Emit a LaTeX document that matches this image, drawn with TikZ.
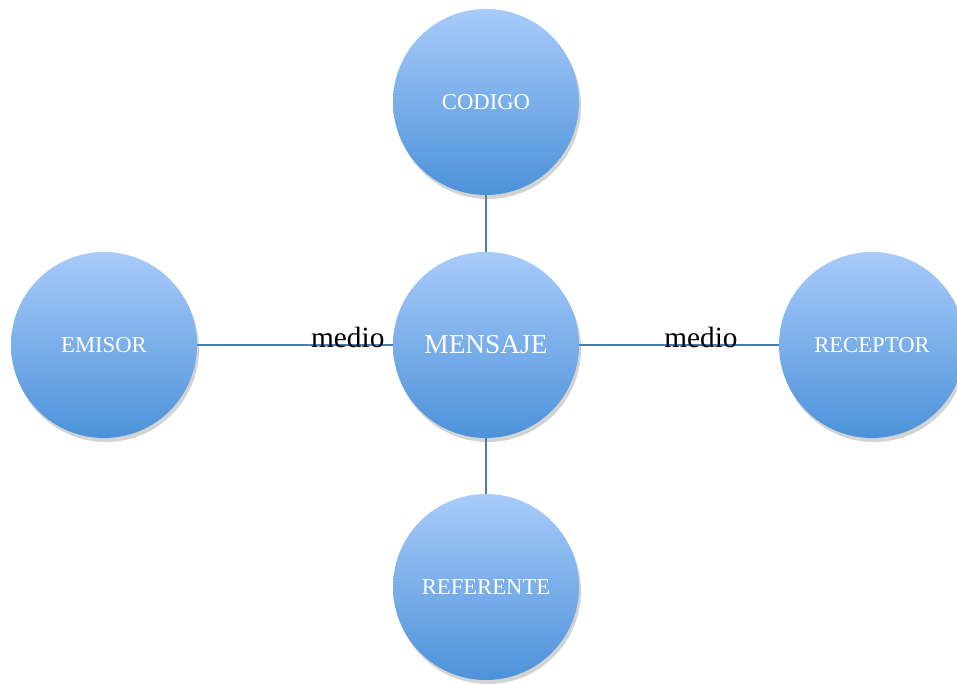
\documentclass[tikz,border=0pt]{standalone}
\usepackage{fontspec}
\setmainfont{Liberation Serif}
\usetikzlibrary{shadows}
\definecolor{bubtop}{HTML}{A8CBFA}
\definecolor{bubbot}{HTML}{4C92DA}
\definecolor{linkblue}{HTML}{4A7EB0}
\tikzset{
  bubble/.style={circle,minimum size=139.5pt,inner sep=0pt,top color=bubtop,bottom color=bubbot,
    text=white,font=\fontsize{17}{19}\selectfont,
    drop shadow={opacity=0.35,shadow xshift=1.5pt,shadow yshift=-3pt}},
  link/.style={draw=linkblue,line width=1.2pt},
  medio/.style={anchor=base,yshift=-2pt,text=black,font=\fontsize{22}{24}\selectfont,inner sep=0pt}
}
\begin{document}
\begin{tikzpicture}[x=0.75pt,y=-0.75pt]
  \useasboundingbox (0,0) rectangle (957,684);
  \node[bubble,font=\fontsize{20.5}{22}\selectfont] (mensaje) at (486,345) {MENSAJE};
  \foreach \n/\x/\y/\t in {codigo/486/102/CODIGO,emisor/104/345/EMISOR,receptor/872/345/RECEPTOR,referente/486/587/REFERENTE}
  {
    \node[bubble] (\n) at (\x,\y) {\t};
  }
  % conexiones
  \draw[link] (codigo)--(mensaje);
  \draw[link] (mensaje)--(referente);
  \draw[link] (emisor)--(mensaje)node[pos=0.77,medio]{medio};
  \draw[link] (mensaje)--(receptor)node[pos=0.61,medio]{medio};
\end{tikzpicture}
\end{document}
